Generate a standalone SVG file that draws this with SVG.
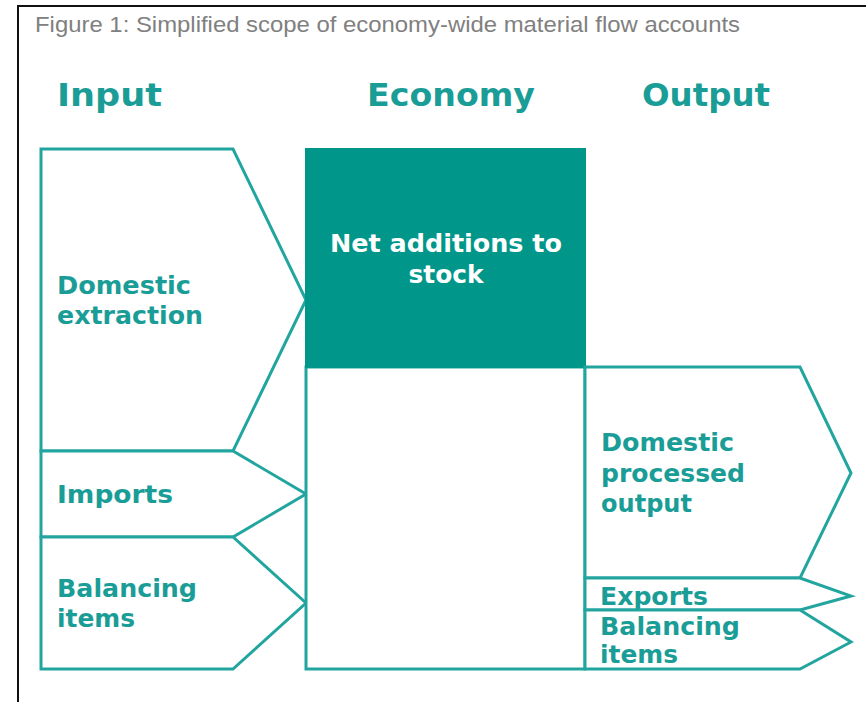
<svg xmlns="http://www.w3.org/2000/svg" width="866" height="702" viewBox="0 0 866 702">
<style>
.shape{fill:#ffffff;stroke:#22a59f;stroke-width:3;stroke-linejoin:miter}
.dark{fill:#00968a;stroke:#00968a;stroke-width:2}
.hdr{font-family:"DejaVu Sans",Verdana,sans-serif;font-weight:bold;font-size:32px;fill:#1b9d97}
.lbl{font-family:"DejaVu Sans",Verdana,sans-serif;font-weight:bold;font-size:24px;fill:#1b9d97}
.wlbl{font-family:"DejaVu Sans",Verdana,sans-serif;font-weight:bold;font-size:24px;fill:#ffffff}
.title{font-family:"Liberation Sans",Arial,sans-serif;font-size:22px;fill:#808080}
</style>
<rect x="0" y="0" width="866" height="702" fill="#ffffff"/>
<g id="frame">
<line x1="18" y1="6" x2="866" y2="6" stroke="#111" stroke-width="2"/>
<line x1="18" y1="5" x2="18" y2="702" stroke="#111" stroke-width="2"/>
</g>
<text class="title" x="35" y="32" textLength="705" lengthAdjust="spacingAndGlyphs">Figure 1: Simplified scope of economy-wide material flow accounts</text>
<g id="headers">
<text class="hdr" x="57" y="106" textLength="105" lengthAdjust="spacingAndGlyphs">Input</text>
<text class="hdr" x="367" y="106" textLength="168" lengthAdjust="spacingAndGlyphs">Economy</text>
<text class="hdr" x="642" y="106" textLength="128" lengthAdjust="spacingAndGlyphs">Output</text>
</g>
<g id="domestic-extraction">
<polygon class="shape" points="41,149 233,149 306,300 233,451 41,451"/>
<text class="lbl" x="57" y="294" textLength="134" lengthAdjust="spacingAndGlyphs">Domestic</text>
<text class="lbl" x="57" y="324" textLength="146" lengthAdjust="spacingAndGlyphs">extraction</text>
</g>
<g id="imports">
<polygon class="shape" points="41,451 233,451 306,494 233,537 41,537"/>
<text class="lbl" x="57" y="503" textLength="116" lengthAdjust="spacingAndGlyphs">Imports</text>
</g>
<g id="balancing-in">
<polygon class="shape" points="41,537 233,537 306,603 233,669 41,669"/>
<text class="lbl" x="57" y="597" textLength="140" lengthAdjust="spacingAndGlyphs">Balancing</text>
<text class="lbl" x="57" y="627" textLength="78" lengthAdjust="spacingAndGlyphs">items</text>
</g>
<g id="economy">
<rect class="shape" x="306" y="367" width="279" height="302"/>
<rect class="dark" x="306" y="149" width="279" height="218"/>
<text class="wlbl" x="446" y="252" text-anchor="middle" textLength="232" lengthAdjust="spacingAndGlyphs">Net additions to</text>
<text class="wlbl" x="446" y="283" text-anchor="middle" textLength="75" lengthAdjust="spacingAndGlyphs">stock</text>
</g>
<g id="domestic-processed-output">
<polygon class="shape" points="585,367 800,367 851,473 800,578 585,578"/>
<text class="lbl" x="601" y="451" textLength="133" lengthAdjust="spacingAndGlyphs">Domestic</text>
<text class="lbl" x="601" y="482" textLength="144" lengthAdjust="spacingAndGlyphs">processed</text>
<text class="lbl" x="601" y="512" textLength="91" lengthAdjust="spacingAndGlyphs">output</text>
</g>
<g id="exports">
<polygon class="shape" points="585,578 800,578 851,596 800,610 585,610"/>
<text class="lbl" x="600" y="605" textLength="108" lengthAdjust="spacingAndGlyphs">Exports</text>
</g>
<g id="balancing-out">
<polygon class="shape" points="585,610 800,610 851,642 800,669 585,669"/>
<text class="lbl" x="600" y="635" textLength="140" lengthAdjust="spacingAndGlyphs">Balancing</text>
<text class="lbl" x="600" y="663" textLength="78" lengthAdjust="spacingAndGlyphs">items</text>
</g>
</svg>
